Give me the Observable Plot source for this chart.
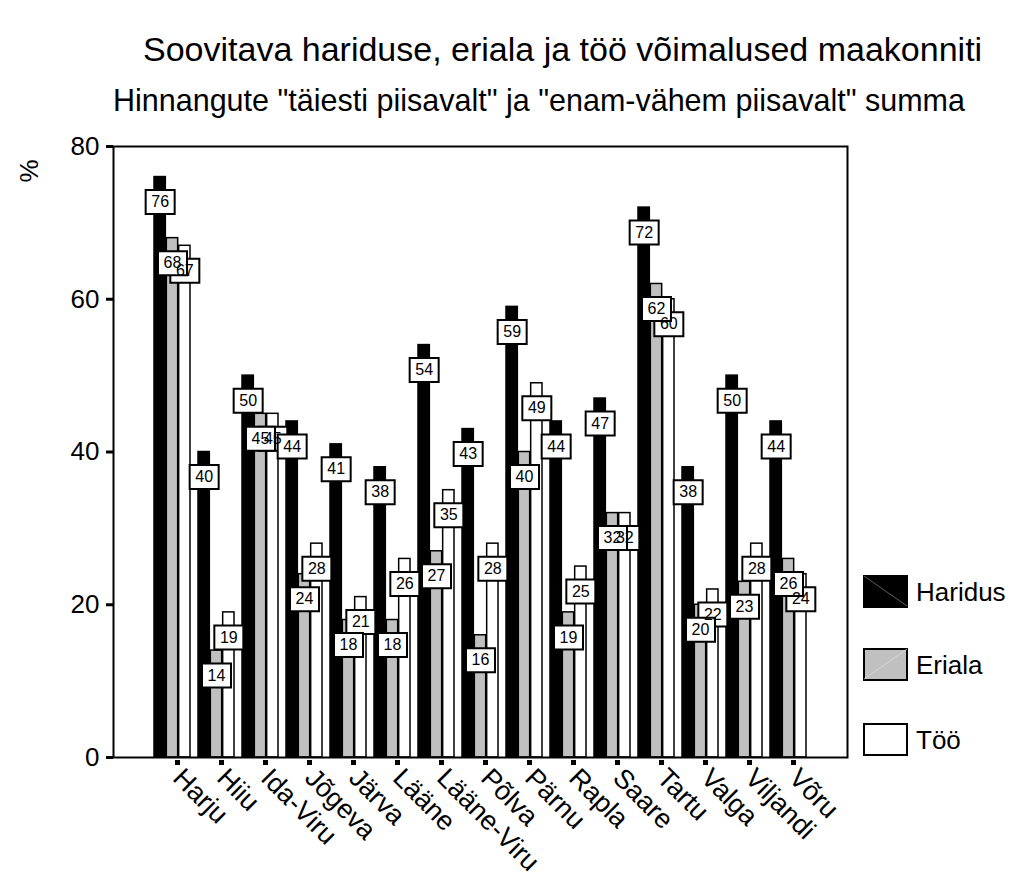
<!DOCTYPE html>
<html>
<head>
<meta charset="utf-8">
<script src="https://cdn.jsdelivr.net/npm/d3@7"></script>
<script src="https://cdn.jsdelivr.net/npm/@observablehq/plot@0.6"></script>
<style>
  html, body { margin: 0; padding: 0; background: #fff; }
  #wrap { position: relative; width: 1013px; height: 881px; font-family: "Liberation Sans", Arial, sans-serif; color: #000; overflow: hidden; }
  #header { position: relative; height: 120px; }
  #title { position: absolute; left: 143px; top: 32px; font-size: 34px; line-height: 1; white-space: nowrap; }
  #subtitle { position: absolute; left: 113px; top: 85px; font-size: 30.5px; line-height: 1; white-space: nowrap; }
  #ylabel { position: absolute; left: 29px; top: 171px; font-size: 26px; line-height: 1; transform: translate(-50%, -50%) rotate(-90deg); }
  .lg { position: absolute; left: 863px; display: flex; align-items: center; font-size: 26px; line-height: 1; }
  .lg svg { display: block; margin-right: 8px; }
</style>
</head>
<body>
<div id="wrap">
  <div id="header">
    <div id="title">Soovitava hariduse, eriala ja töö võimalused maakonniti</div>
    <div id="subtitle">Hinnangute "täiesti piisavalt" ja "enam-vähem piisavalt" summa</div>
  </div>
  <div id="chart"></div>
  <div id="ylabel">%</div>
  <div id="legend"></div>
</div>
<script>
const counties = ["Harju","Hiiu","Ida-Viru","Jõgeva","Järva","Lääne","Lääne-Viru","Põlva","Pärnu","Rapla","Saare","Tartu","Valga","Viljandi","Võru"];
const haridus = [76,40,50,44,41,38,54,43,59,44,47,72,38,50,44];
const eriala  = [68,14,45,24,18,18,27,16,40,19,32,62,20,23,26];
const too     = [67,19,45,28,21,26,35,28,49,25,32,60,22,28,24];
const seriesNames = ["Haridus","Eriala","Töö"];
const yTicks = [0,20,40,60,80];

const seriesValues = {"Haridus": haridus, "Eriala": eriala, "Töö": too};
const fills = {"Haridus": "#000000", "Eriala": "#c0c0c0", "Töö": "#ffffff"};

const rows = seriesNames.flatMap(s => counties.map((c, i) => ({county: c, series: s, value: seriesValues[s][i]})));

const bw = 37;            // band width of a county group (px)
const third = bw / 3;
const insets = {"Haridus": [0, 2 * third], "Eriala": [third, third], "Töö": [2 * third, 0]};
const offsets = {"Haridus": -third, "Eriala": 0, "Töö": third};

const boxSymbol = {
  draw(context, size) {
    const w = 29, h = 24;
    context.moveTo(-w / 2, -h / 2);
    context.lineTo(w / 2, -h / 2);
    context.lineTo(w / 2, h / 2);
    context.lineTo(-w / 2, h / 2);
    context.closePath();
  }
};

const marks = [];
for (const s of seriesNames) {
  marks.push(Plot.barY(rows.filter(d => d.series === s), {
    x: "county", y: "value",
    fill: fills[s], stroke: "#000", strokeWidth: 1.5,
    insetLeft: insets[s][0], insetRight: insets[s][1]
  }));
}
const labelOrder = ["Töö", "Haridus", "Eriala"];
for (const s of labelOrder) {
  marks.push(Plot.dot(rows.filter(d => d.series === s), {
    x: "county", y: "value", dx: offsets[s], dy: 25,
    symbol: boxSymbol, r: 5, fill: "#fff", stroke: "#000", strokeWidth: 2
  }));
}
for (const s of labelOrder) {
  marks.push(Plot.text(rows.filter(d => d.series === s), {
    x: "county", y: "value", dx: offsets[s], dy: 25,
    text: d => String(d.value), fontSize: 16, fill: "#000"
  }));
}
marks.push(Plot.frame({stroke: "#000", strokeWidth: 2}));
marks.push(Plot.axisY({ticks: yTicks, tickSize: 7, strokeWidth: 3, tickPadding: 7, fontSize: 26, label: null}));
marks.push(Plot.axisX({tickSize: 5, strokeWidth: 5, tickRotate: 45, tickPadding: 8, fontSize: 27, dx: 5, dy: 3, label: null}));

const chart = Plot.plot({
  width: 1013,
  height: 761,
  marginTop: 26,
  marginBottom: 124,
  marginLeft: 113,
  marginRight: 166,
  style: {fontFamily: "'Liberation Sans', Arial, sans-serif", background: "#fff", color: "#000", overflow: "visible"},
  x: {domain: counties, paddingInner: 0.1724, paddingOuter: 0.7947},
  y: {domain: [0, 80]},
  marks
});
document.getElementById("chart").appendChild(chart);

// legend
const legend = document.getElementById("legend");
const legendTops = [575, 648, 723];
seriesNames.forEach((s, i) => {
  const row = document.createElement("div");
  row.className = "lg";
  row.style.top = legendTops[i] + "px";
  const diag = s === "Haridus" ? '<line x1="1" y1="1" x2="44" y2="31" stroke="#888" stroke-width="0.7"/>'
             : s === "Eriala" ? '<line x1="1" y1="31" x2="44" y2="1" stroke="#e0e0e0" stroke-width="0.7"/>' : '';
  row.innerHTML = `<svg width="45" height="33"><rect x="1" y="1" width="43" height="31" fill="${fills[s]}" stroke="#000" stroke-width="2"/>${diag}</svg><span>${s}</span>`;
  legend.appendChild(row);
});
</script>
</body>
</html>
